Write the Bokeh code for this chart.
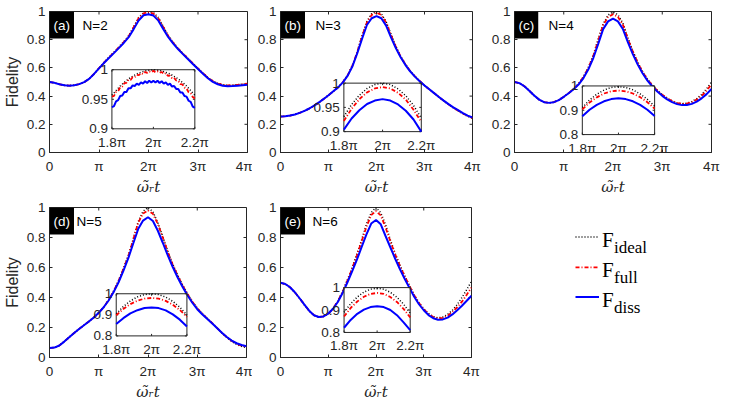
import math
from bokeh.plotting import figure
from bokeh.models import Range1d, FixedTicker, Label
from bokeh.layouts import row, column
from bokeh.embed import file_html
from bokeh.resources import INLINE
from bokeh.core.properties import value

# ---------------- data (t in units of pi) ----------------
T = [0.0, 0.1, 0.2, 0.3, 0.4, 0.5, 0.6, 0.7, 0.8, 0.9, 1.0, 1.1, 1.2, 1.3, 1.4, 1.5, 1.6, 1.7, 1.8, 1.9, 2.0,
     2.1, 2.2, 2.3, 2.4, 2.5, 2.6, 2.7, 2.8, 2.9, 3.0, 3.1, 3.2, 3.3, 3.4, 3.5, 3.6, 3.7, 3.8, 3.9, 4.0]

ideal_a = [0.500,0.494,0.484,0.477,0.474,0.477,0.485,0.499,0.522,0.557,0.598,0.638,0.675,0.711,0.748,0.786,0.828,0.892,0.957,0.992,1.000,0.992,0.957,0.892,0.829,0.780,0.738,0.701,0.666,0.631,0.597,0.563,0.532,0.507,0.490,0.480,0.477,0.478,0.481,0.485,0.489]
full_a = [0.500,0.494,0.484,0.477,0.474,0.477,0.485,0.499,0.522,0.557,0.598,0.637,0.673,0.709,0.745,0.783,0.825,0.888,0.953,0.986,0.997,0.985,0.950,0.888,0.826,0.778,0.737,0.700,0.665,0.630,0.596,0.562,0.531,0.506,0.489,0.479,0.476,0.477,0.480,0.484,0.488]
diss_a = [0.500,0.494,0.484,0.477,0.474,0.477,0.485,0.499,0.522,0.557,0.597,0.635,0.670,0.705,0.740,0.777,0.818,0.875,0.936,0.973,0.980,0.971,0.935,0.875,0.818,0.772,0.732,0.696,0.661,0.626,0.592,0.558,0.527,0.501,0.484,0.474,0.470,0.471,0.474,0.477,0.480]

ideal_b = [0.255,0.257,0.262,0.270,0.281,0.295,0.312,0.332,0.355,0.380,0.406,0.434,0.463,0.500,0.550,0.621,0.717,0.830,0.931,0.984,1.000,0.984,0.928,0.842,0.757,0.686,0.628,0.580,0.541,0.508,0.476,0.448,0.420,0.393,0.366,0.341,0.317,0.295,0.275,0.257,0.243]
full_b = [0.255,0.257,0.262,0.270,0.281,0.295,0.312,0.332,0.355,0.380,0.406,0.434,0.463,0.499,0.548,0.618,0.713,0.825,0.922,0.976,0.992,0.976,0.920,0.835,0.752,0.683,0.626,0.579,0.540,0.507,0.476,0.448,0.421,0.394,0.367,0.342,0.318,0.297,0.277,0.259,0.245]
diss_b = [0.255,0.257,0.262,0.270,0.281,0.295,0.312,0.332,0.355,0.380,0.406,0.434,0.462,0.497,0.545,0.612,0.705,0.808,0.904,0.952,0.967,0.952,0.900,0.818,0.742,0.677,0.622,0.576,0.538,0.506,0.475,0.448,0.421,0.394,0.368,0.343,0.320,0.300,0.280,0.262,0.248]

ideal_c = [0.500,0.492,0.470,0.438,0.404,0.375,0.357,0.352,0.357,0.372,0.395,0.421,0.451,0.488,0.538,0.604,0.692,0.805,0.911,0.975,0.997,0.977,0.917,0.815,0.722,0.641,0.575,0.520,0.477,0.441,0.410,0.385,0.366,0.352,0.346,0.349,0.361,0.382,0.411,0.452,0.500]
full_c = [0.500,0.492,0.470,0.438,0.404,0.375,0.357,0.352,0.357,0.372,0.395,0.421,0.450,0.486,0.535,0.600,0.685,0.795,0.904,0.960,0.981,0.962,0.907,0.808,0.718,0.638,0.572,0.518,0.475,0.439,0.409,0.384,0.365,0.351,0.345,0.347,0.357,0.375,0.401,0.439,0.483]
diss_c = [0.500,0.492,0.470,0.438,0.404,0.375,0.357,0.352,0.357,0.372,0.395,0.420,0.448,0.482,0.528,0.590,0.670,0.770,0.875,0.930,0.949,0.930,0.876,0.785,0.700,0.625,0.562,0.510,0.468,0.432,0.402,0.377,0.357,0.343,0.336,0.337,0.345,0.361,0.384,0.414,0.450]

ideal_d = [0.063,0.066,0.080,0.106,0.135,0.163,0.190,0.215,0.240,0.267,0.298,0.336,0.384,0.442,0.511,0.594,0.680,0.790,0.905,0.975,1.000,0.972,0.898,0.806,0.710,0.624,0.551,0.485,0.427,0.374,0.330,0.293,0.262,0.230,0.197,0.163,0.133,0.107,0.087,0.074,0.065]
full_d = [0.063,0.066,0.080,0.106,0.135,0.163,0.190,0.215,0.240,0.267,0.298,0.336,0.383,0.440,0.508,0.590,0.675,0.785,0.898,0.960,0.980,0.958,0.890,0.800,0.705,0.620,0.548,0.482,0.424,0.372,0.328,0.292,0.261,0.230,0.198,0.165,0.136,0.111,0.092,0.079,0.070]
diss_d = [0.063,0.066,0.080,0.106,0.135,0.163,0.190,0.215,0.240,0.267,0.298,0.335,0.380,0.435,0.500,0.578,0.662,0.760,0.856,0.913,0.935,0.910,0.845,0.765,0.682,0.605,0.535,0.472,0.415,0.365,0.322,0.288,0.258,0.228,0.197,0.165,0.137,0.113,0.095,0.083,0.075]

ideal_e = [0.498,0.490,0.468,0.435,0.395,0.352,0.312,0.282,0.270,0.274,0.292,0.327,0.376,0.440,0.517,0.598,0.690,0.785,0.890,0.966,1.000,0.964,0.886,0.785,0.695,0.617,0.546,0.481,0.418,0.366,0.325,0.293,0.273,0.265,0.270,0.287,0.315,0.352,0.400,0.452,0.508]
full_e = [0.498,0.490,0.468,0.435,0.395,0.352,0.312,0.282,0.270,0.274,0.292,0.326,0.374,0.437,0.512,0.592,0.680,0.775,0.871,0.950,0.976,0.947,0.867,0.775,0.688,0.612,0.542,0.478,0.415,0.363,0.322,0.290,0.270,0.261,0.264,0.279,0.303,0.335,0.372,0.418,0.466]
diss_e = [0.498,0.490,0.468,0.435,0.395,0.352,0.312,0.282,0.270,0.274,0.292,0.325,0.370,0.430,0.500,0.575,0.652,0.737,0.821,0.893,0.917,0.888,0.810,0.735,0.660,0.590,0.525,0.465,0.405,0.355,0.315,0.283,0.262,0.252,0.254,0.266,0.287,0.315,0.345,0.378,0.412]

# insets (zoom around 2pi)
TI_A = [1.80,1.81,1.82,1.83,1.84,1.85,1.86,1.87,1.88,1.89,1.90,1.91,1.92,1.93,1.94,1.95,1.96,1.97,1.98,1.99,2.00,
        2.01,2.02,2.03,2.04,2.05,2.06,2.07,2.08,2.09,2.10,2.11,2.12,2.13,2.14,2.15,2.16,2.17,2.18,2.19,2.20]
TI = [1.80, 1.84, 1.88, 1.92, 1.96, 2.00, 2.04, 2.08, 2.12, 2.16, 2.20]

ideal_a_in = [0.957,0.9725,0.9845,0.993,0.998,1.000,0.998,0.993,0.9845,0.9725,0.957]
full_a_in = [0.9542,0.9558,0.9622,0.9638,0.9702,0.9718,0.9772,0.9778,0.9832,0.9828,0.9872,0.9868,0.9912,0.9908,0.9942,0.9928,0.9962,0.9948,0.9972,0.9958,0.9982,
             0.9958,0.9972,0.9948,0.9962,0.9928,0.9942,0.9898,0.9902,0.9858,0.9862,0.9818,0.9812,0.9758,0.9752,0.9698,0.9682,0.9618,0.9602,0.9538,0.9512]
diss_a_in = [0.9365,0.9385,0.9465,0.9485,0.9555,0.9565,0.9625,0.9625,0.9685,0.9685,0.9735,0.9725,0.9765,0.9745,0.9785,0.9765,0.9805,0.9775,0.9815,0.9785,0.9815,
             0.9785,0.9815,0.9775,0.9805,0.9765,0.9785,0.9745,0.9765,0.9715,0.9725,0.9675,0.9675,0.9615,0.9615,0.9555,0.9545,0.9475,0.9455,0.9375,0.9355]

ideal_b_in = [0.931,0.956,0.975,0.989,0.997,1.000,0.997,0.988,0.974,0.954,0.928]
full_b_in = [0.922,0.947,0.967,0.981,0.989,0.992,0.989,0.980,0.966,0.945,0.920]
diss_b_in = [0.904,0.927,0.944,0.957,0.964,0.967,0.964,0.956,0.943,0.925,0.900]

ideal_c_in = [0.911,0.942,0.966,0.983,0.994,0.997,0.994,0.984,0.967,0.945,0.917]
full_c_in = [0.904,0.932,0.953,0.969,0.978,0.981,0.978,0.969,0.954,0.933,0.907]
diss_c_in = [0.875,0.902,0.922,0.937,0.946,0.949,0.946,0.937,0.922,0.902,0.876]

ideal_d_in = [0.905,0.939,0.966,0.985,0.996,1.000,0.996,0.984,0.964,0.936,0.898]
full_d_in = [0.898,0.928,0.951,0.967,0.977,0.980,0.977,0.966,0.948,0.923,0.890]
diss_d_in = [0.856,0.884,0.907,0.922,0.932,0.935,0.932,0.921,0.902,0.877,0.845]

ideal_e_in = [0.890,0.928,0.958,0.980,0.993,0.997,0.993,0.979,0.957,0.926,0.886]
full_e_in = [0.871,0.909,0.938,0.959,0.972,0.976,0.972,0.958,0.936,0.905,0.867]
diss_e_in = [0.821,0.856,0.883,0.902,0.913,0.917,0.913,0.900,0.877,0.845,0.810]

# ticks
XTICKS = [0, 1, 2, 3, 4]
XTICK_LABELS = ["0", "π", "2π", "3π", "4π"]
YTICKS = [0, 0.2, 0.4, 0.6, 0.8, 1]
YTICK_LABELS = ["0", "0.2", "0.4", "0.6", "0.8", "1"]
IN_XTICKS = [1.8, 2.0, 2.2]
IN_XTICK_LABELS = ["1.8π", "2π", "2.2π"]
IN_YTICKS_HI = [0.9, 0.95, 1.0]
IN_YTICK_LABELS_HI = ["0.9", "0.95", "1"]
IN_YTICKS_LO = [0.8, 0.9, 1.0]
IN_YTICK_LABELS_LO = ["0.8", "0.9", "1"]

PANELS = [
    dict(tag="(a)", n="N=2", ideal=ideal_a, full=full_a, diss=diss_a, ti=TI_A, ti_ideal=TI,
         iin=ideal_a_in, fin=full_a_in, din=diss_a_in, yt=IN_YTICKS_HI, ytl=IN_YTICK_LABELS_HI),
    dict(tag="(b)", n="N=3", ideal=ideal_b, full=full_b, diss=diss_b, ti=TI, ti_ideal=TI,
         iin=ideal_b_in, fin=full_b_in, din=diss_b_in, yt=IN_YTICKS_HI, ytl=IN_YTICK_LABELS_HI),
    dict(tag="(c)", n="N=4", ideal=ideal_c, full=full_c, diss=diss_c, ti=TI, ti_ideal=TI,
         iin=ideal_c_in, fin=full_c_in, din=diss_c_in, yt=IN_YTICKS_LO, ytl=IN_YTICK_LABELS_LO),
    dict(tag="(d)", n="N=5", ideal=ideal_d, full=full_d, diss=diss_d, ti=TI, ti_ideal=TI,
         iin=ideal_d_in, fin=full_d_in, din=diss_d_in, yt=IN_YTICKS_LO, ytl=IN_YTICK_LABELS_LO),
    dict(tag="(e)", n="N=6", ideal=ideal_e, full=full_e, diss=diss_e, ti=TI, ti_ideal=TI,
         iin=ideal_e_in, fin=full_e_in, din=diss_e_in, yt=IN_YTICKS_LO, ytl=IN_YTICK_LABELS_LO),
]

# ---------------- layout / style ----------------
LAYOUT = [
    dict(w=252, h=198, l=48, r=5, t=8, b=41, ylab=True, inx=(1.261, 2.936), iny=(0.168, 0.587), noff=33),
    dict(w=234, h=198, l=28, r=14, t=8, b=41, ylab=False, inx=(1.320, 2.933), iny=(0.148, 0.492), noff=35),
    dict(w=245, h=198, l=28, r=20, t=11, b=41, ylab=False, inx=(1.377, 2.845), iny=(0.127, 0.472), noff=34),
    dict(w=252, h=205, l=49, r=6, t=7, b=46, ylab=True, inx=(1.355, 2.790), iny=(0.144, 0.425), noff=27),
    dict(w=234, h=205, l=28, r=15, t=9, b=46, ylab=False, inx=(1.331, 2.716), iny=(0.167, 0.466), noff=32),
]

AX = "#262626"
SANS = "Liberation Sans"
TFS = "13.5px"
STY = dict(
    ideal=dict(line_color="black", line_width=1.5, line_dash="1 2"),
    full=dict(line_color="#ff0000", line_width=1.8, line_dash="4 2 1 2"),
    diss=dict(line_color="#0000ff", line_width=2.0),
)


def style_axis(ax):
    ax.axis_line_color = AX
    ax.major_tick_line_color = AX
    ax.major_tick_in = 3
    ax.major_tick_out = 0
    ax.minor_tick_line_color = None
    ax.major_label_text_color = AX
    ax.major_label_text_font = SANS
    ax.major_label_text_font_size = TFS


def make_panel(d, lay):
    p = figure(width=lay["w"], height=lay["h"], x_range=Range1d(0, 4), y_range=Range1d(0, 1),
               toolbar_location=None, output_backend="svg",
               min_border_left=lay["l"], min_border_right=lay["r"],
               min_border_top=lay["t"], min_border_bottom=lay["b"])
    p.xgrid.visible = False
    p.ygrid.visible = False
    p.outline_line_color = AX
    p.background_fill_color = "white"
    p.border_fill_color = "white"

    xa = p.below[0]
    ya = p.left[0]
    xa.ticker = FixedTicker(ticks=XTICKS)
    xa.major_label_overrides = {k: v for k, v in zip(XTICKS, XTICK_LABELS)}
    ya.ticker = FixedTicker(ticks=YTICKS)
    ya.major_label_overrides = {k: v for k, v in zip(YTICKS, YTICK_LABELS)}
    style_axis(xa)
    style_axis(ya)
    xa.major_label_standoff = 6
    ya.major_label_standoff = 4
    xa.axis_label = "ω\u0303\u1d63t"
    xa.axis_label_text_font = "DejaVu Serif"
    xa.axis_label_text_font_style = "italic"
    xa.axis_label_text_font_size = "15px"
    xa.axis_label_text_color = AX
    xa.axis_label_standoff = 1
    if lay["ylab"]:
        ya.axis_label = "Fidelity"
        ya.axis_label_text_font = SANS
        ya.axis_label_text_font_style = "normal"
        ya.axis_label_text_font_size = "16px"
        ya.axis_label_text_color = AX
        ya.axis_label_standoff = 3

    # inward ticks on the top and right edges of the box
    p.ray(x=[XTICKS[-1]] * len(YTICKS), y=YTICKS, length=3, length_units="screen", angle=math.pi,
          line_color=AX, line_width=1)
    p.ray(x=XTICKS, y=[YTICKS[-1]] * len(XTICKS), length=3, length_units="screen", angle=-math.pi / 2,
          line_color=AX, line_width=1)

    for key in ("ideal", "full", "diss"):
        p.line(T, d[key], **STY[key])

    # inset
    lo, hi = d["yt"][0], d["yt"][-1]
    x0, x1 = IN_XTICKS[0], IN_XTICKS[-1]
    sub = p.subplot(x_source=Range1d(x0, x1), y_source=Range1d(lo, hi),
                    x_target=Range1d(*lay["inx"]), y_target=Range1d(*lay["iny"]))
    sub.quad(left=[x0], right=[x1], bottom=[lo], top=[hi],
             fill_color="white", line_color=AX, line_width=1)
    sub.ray(x=IN_XTICKS, y=[lo] * 3, length=2, length_units="screen", angle=math.pi / 2, line_color=AX)
    sub.ray(x=IN_XTICKS, y=[hi] * 3, length=2, length_units="screen", angle=-math.pi / 2, line_color=AX)
    sub.ray(x=[x0] * 3, y=d["yt"], length=2, length_units="screen", angle=0, line_color=AX)
    sub.ray(x=[x1] * 3, y=d["yt"], length=2, length_units="screen", angle=math.pi, line_color=AX)
    sub.line(d["ti_ideal"], d["iin"], **STY["ideal"])
    sub.line(d["ti"], d["fin"], **STY["full"])
    sub.line(d["ti"], d["din"], **STY["diss"])
    sub.text(x=IN_XTICKS, y=[lo] * len(IN_XTICKS), text=IN_XTICK_LABELS, text_align="center",
             text_baseline="top", y_offset=6, text_font=value(SANS), text_font_size=TFS, text_color=AX)
    sub.text(x=[x0] * len(d["yt"]), y=d["yt"], text=d["ytl"], text_align="right",
             text_baseline="middle", x_offset=-4, text_font=value(SANS), text_font_size=TFS, text_color=AX)

    # panel tags
    p.add_layout(Label(x=0, y=1, text=d["tag"], text_align="left", text_baseline="top",
                       text_color="white", text_font=SANS, text_font_size=TFS,
                       background_fill_color="black", padding=(4, 6), x_offset=0, y_offset=0))
    p.add_layout(Label(x=0, y=1, text=d["n"], text_align="left", text_baseline="middle",
                       text_color="black", text_font=SANS, text_font_size=TFS,
                       x_offset=lay["noff"], y_offset=-14))
    return p


figs = [make_panel(d, lay) for d, lay in zip(PANELS, LAYOUT)]

# ---------------- legend panel ----------------
LEG_NAMES = ["ideal", "full", "diss"]
LEG_Y = [40.4, 81.7, 122.4]
leg = figure(width=245, height=205, x_range=Range1d(0, 245), y_range=Range1d(205, 0),
             toolbar_location=None, output_backend="svg", min_border=0)
leg.axis.visible = False
leg.xgrid.visible = False
leg.ygrid.visible = False
leg.outline_line_color = None
for name, yy in zip(LEG_NAMES, LEG_Y):
    leg.line([89, 112.5], [yy, yy], **STY[name])
leg.text(x=[115.5] * 3, y=[yy + 3.6 for yy in LEG_Y], text=["F"] * 3, text_baseline="alphabetic",
         text_font=value("Liberation Serif"), text_font_size="21px", text_color="black")
leg.text(x=[127.5] * 3, y=[yy + 14.0 for yy in LEG_Y], text=LEG_NAMES, text_baseline="alphabetic",
         text_font=value("Liberation Serif"), text_font_size="17px", text_color="black")

layout = column(row(figs[0], figs[1], figs[2]), row(figs[3], figs[4], leg))
open("out.html", "w").write(file_html(layout, INLINE))
